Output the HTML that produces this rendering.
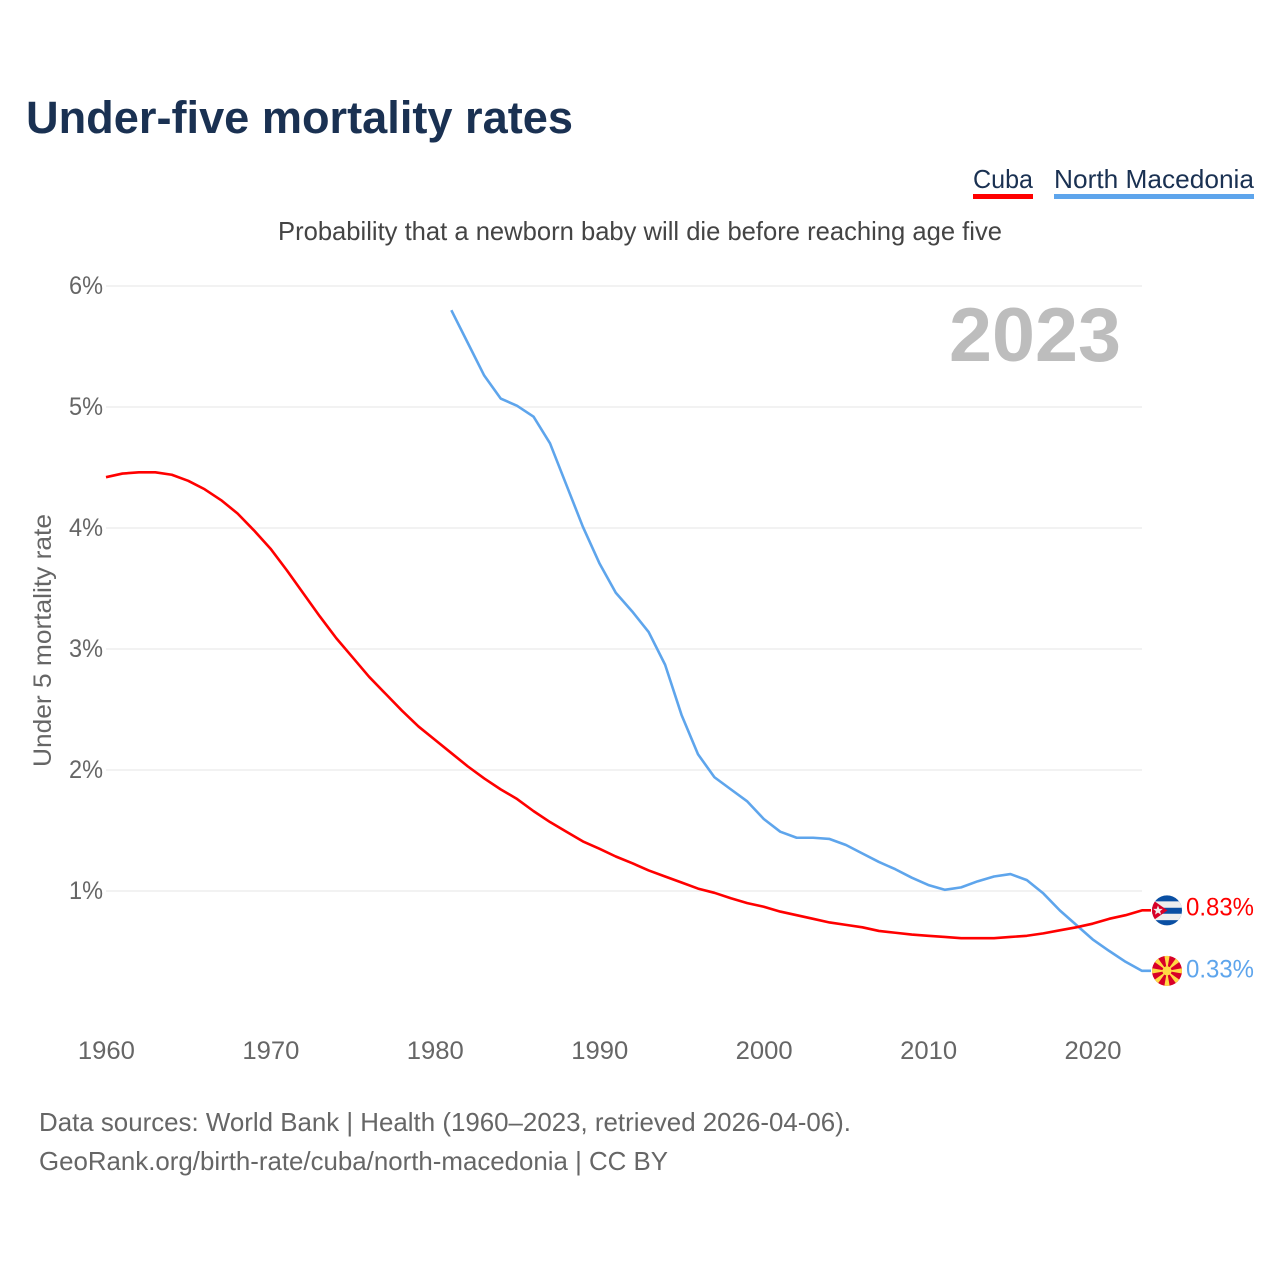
<!DOCTYPE html>
<html lang="en">
<head>
<meta charset="utf-8">
<title>Under-five mortality rates</title>
<style>
html,body{margin:0;padding:0;background:#fff;}
svg{display:block;}
text{font-family:"Liberation Sans",sans-serif;}
</style>
</head>
<body>
<svg id="chart" xmlns="http://www.w3.org/2000/svg" width="1280" height="1280" viewBox="0 0 1280 1280">
  <defs>
    <clipPath id="flag-clip-cuba"><circle cx="0" cy="0" r="15"></circle></clipPath>
    <clipPath id="flag-clip-mk"><circle cx="0" cy="0" r="15"></circle></clipPath>
  </defs>
  <rect width="1280" height="1280" fill="#fff"></rect>
  <text x="26" y="133" font-size="45" font-weight="700" fill="#1a3152" textLength="547" lengthAdjust="spacingAndGlyphs">Under-five mortality rates</text>

  <g>
    <text x="973" y="188" font-size="26" fill="#1a3152" textLength="60" lengthAdjust="spacingAndGlyphs">Cuba</text>
    <rect x="973" y="194" width="60" height="5" fill="#ff0000"></rect>
    <text x="1054" y="188" font-size="26" fill="#1a3152" textLength="200" lengthAdjust="spacingAndGlyphs">North Macedonia</text>
    <rect x="1054" y="194" width="200" height="5" fill="#5ea5ec"></rect>
  </g>

  <text x="278" y="240" font-size="26" fill="#444" textLength="724" lengthAdjust="spacingAndGlyphs">Probability that a newborn baby will die before reaching age five</text>

  <g id="grid"></g>
  <g id="y-ticks"></g>
  <g id="x-ticks"></g>

  <text x="1121" y="361" text-anchor="end" font-size="76" font-weight="700" fill="#bdbdbd" textLength="172" lengthAdjust="spacingAndGlyphs">2023</text>

  <text transform="translate(51,767) rotate(-90)" font-size="25" fill="#666" textLength="253" lengthAdjust="spacingAndGlyphs">Under 5 mortality rate</text>

  <path id="line-mk" fill="none" stroke="#5ea5ec" stroke-width="2.6" stroke-linejoin="round"></path>
  <path id="line-cuba" fill="none" stroke="#ff0000" stroke-width="2.6" stroke-linejoin="round"></path>

  <g id="flag-cuba">
    <g clip-path="url(#flag-clip-cuba)">
      <rect x="-15" y="-16" width="30" height="32" fill="#0a4fa3"></rect>
      <rect x="-15" y="-9" width="30" height="6.4" fill="#eeeeee"></rect>
      <rect x="-15" y="3.4" width="30" height="6.4" fill="#eeeeee"></rect>
      <polygon points="-18,-13 0.5,0 -18,13" fill="#d80027"></polygon>
      <polygon points="-9,-4.8 -7.7,-1.5 -4.2,-1.5 -6.9,0.8 -6,4.3 -9,2.3 -12,4.3 -11.1,0.8 -13.8,-1.5 -10.3,-1.5" fill="#eeeeee"></polygon>
    </g>
  </g>
  <g id="flag-mk">
    <g clip-path="url(#flag-clip-mk)">
      <rect x="-15" y="-15" width="30" height="30" fill="#d80027"></rect>
      <polygon points="-2.8,-16 2.8,-16 0,0" fill="#ffda44"></polygon>
      <polygon points="-2.8,16 2.8,16 0,0" fill="#ffda44"></polygon>
      <polygon points="-16,-2.8 -16,2.8 0,0" fill="#ffda44"></polygon>
      <polygon points="16,-2.8 16,2.8 0,0" fill="#ffda44"></polygon>
      <polygon points="-12.8,-9.2 -9.2,-12.8 0,0" fill="#ffda44"></polygon>
      <polygon points="12.8,-9.2 9.2,-12.8 0,0" fill="#ffda44"></polygon>
      <polygon points="-12.8,9.2 -9.2,12.8 0,0" fill="#ffda44"></polygon>
      <polygon points="12.8,9.2 9.2,12.8 0,0" fill="#ffda44"></polygon>
      <circle cx="0" cy="0" r="4.6" fill="#ffda44"></circle>
    </g>
  </g>

  <text id="label-cuba" x="1186" font-size="25" fill="#ff0000" textLength="68" lengthAdjust="spacingAndGlyphs"></text>
  <text id="label-mk" x="1186" font-size="25" fill="#5ea5ec" textLength="68" lengthAdjust="spacingAndGlyphs"></text>

  <text x="39" y="1131" font-size="26" fill="#666" textLength="812" lengthAdjust="spacingAndGlyphs">Data sources: World Bank | Health (1960–2023, retrieved 2026-04-06).</text>
  <text x="39" y="1170" font-size="26" fill="#666" textLength="629" lengthAdjust="spacingAndGlyphs">GeoRank.org/birth-rate/cuba/north-macedonia | CC BY</text>
</svg>
<script>
const cubaStartYear = 1960;
const cubaValues = [4.42,4.45,4.46,4.46,4.44,4.39,4.32,4.23,4.12,3.98,3.83,3.65,3.46,3.27,3.09,2.93,2.77,2.63,2.49,2.36,2.25,2.14,2.03,1.93,1.84,1.76,1.66,1.57,1.49,1.41,1.35,1.285,1.23,1.17,1.12,1.07,1.02,0.985,0.94,0.90,0.87,0.83,0.80,0.77,0.74,0.72,0.70,0.67,0.655,0.64,0.63,0.62,0.61,0.61,0.61,0.62,0.63,0.65,0.675,0.70,0.73,0.77,0.80,0.84];
const macedoniaStartYear = 1981;
const macedoniaValues = [5.80,5.53,5.26,5.07,5.01,4.92,4.70,4.355,4.01,3.71,3.465,3.31,3.14,2.87,2.455,2.13,1.94,1.84,1.74,1.595,1.49,1.44,1.44,1.43,1.38,1.31,1.24,1.18,1.11,1.05,1.01,1.03,1.08,1.12,1.14,1.09,0.98,0.84,0.72,0.60,0.505,0.415,0.34];
const yTickValues = [1,2,3,4,5,6];
const yTickLabels = ["1%","2%","3%","4%","5%","6%"];
const xTickYears = [1960,1970,1980,1990,2000,2010,2020];
const endLabelCuba = "0.83%";
const endLabelMacedonia = "0.33%";

const NS = 'http://www.w3.org/2000/svg';
function xScale(year){ return 106 + (year - 1960) * (1142 - 106) / 63; }
function yScale(value){ return 1012 - value * 121; }

function linePath(startYear, values){
  let d = '';
  values.forEach(function(v, i){
    d += (i ? 'L' : 'M') + xScale(startYear + i).toFixed(2) + ' ' + yScale(v).toFixed(2);
  });
  const last = values[values.length - 1];
  d += 'L' + (xScale(startYear + values.length - 1) + 9).toFixed(2) + ' ' + yScale(last).toFixed(2);
  return d;
}

const grid = document.getElementById('grid');
const yTicks = document.getElementById('y-ticks');
yTickValues.forEach(function(v, i){
  const ln = document.createElementNS(NS, 'line');
  
  
  ln.setAttribute('x1', xScale(1960));
  ln.setAttribute('x2', xScale(2023));
  ln.setAttribute('y1', yScale(v));
  ln.setAttribute('y2', yScale(v));
  ln.setAttribute('stroke', '#eeeeee');
  ln.setAttribute('stroke-width', '1.6');
  grid.appendChild(ln);

  const t = document.createElementNS(NS, 'text');
  
  
  t.setAttribute('x', 103);
  t.setAttribute('y', yScale(v) + 8);
  t.setAttribute('text-anchor', 'end');
  t.setAttribute('font-size', '25');
  t.setAttribute('fill', '#666');
  t.setAttribute('textLength', '34');
  t.setAttribute('lengthAdjust', 'spacingAndGlyphs');
  t.textContent = yTickLabels[i];
  yTicks.appendChild(t);
});

const xTicks = document.getElementById('x-ticks');
xTickYears.forEach(function(year){
  const t = document.createElementNS(NS, 'text');
  
  
  t.setAttribute('x', xScale(year) + 0.4);
  t.setAttribute('y', 1059);
  t.setAttribute('text-anchor', 'middle');
  t.setAttribute('font-size', '25');
  t.setAttribute('fill', '#666');
  t.setAttribute('textLength', '57');
  t.setAttribute('lengthAdjust', 'spacingAndGlyphs');
  t.textContent = String(year);
  xTicks.appendChild(t);
});

document.getElementById('line-cuba').setAttribute('d', linePath(cubaStartYear, cubaValues));
document.getElementById('line-mk').setAttribute('d', linePath(macedoniaStartYear, macedoniaValues));

const cubaEndY = yScale(cubaValues[cubaValues.length - 1]);
const mkEndY = yScale(macedoniaValues[macedoniaValues.length - 1]);
document.getElementById('flag-cuba').setAttribute('transform', 'translate(1167,' + cubaEndY + ')');
document.getElementById('flag-mk').setAttribute('transform', 'translate(1167,' + mkEndY + ')');

const labelCuba = document.getElementById('label-cuba');
labelCuba.setAttribute('y', cubaEndY + 5);
labelCuba.textContent = endLabelCuba;
const labelMk = document.getElementById('label-mk');
labelMk.setAttribute('y', mkEndY + 6.5);
labelMk.textContent = endLabelMacedonia;
</script>
</body>
</html>
